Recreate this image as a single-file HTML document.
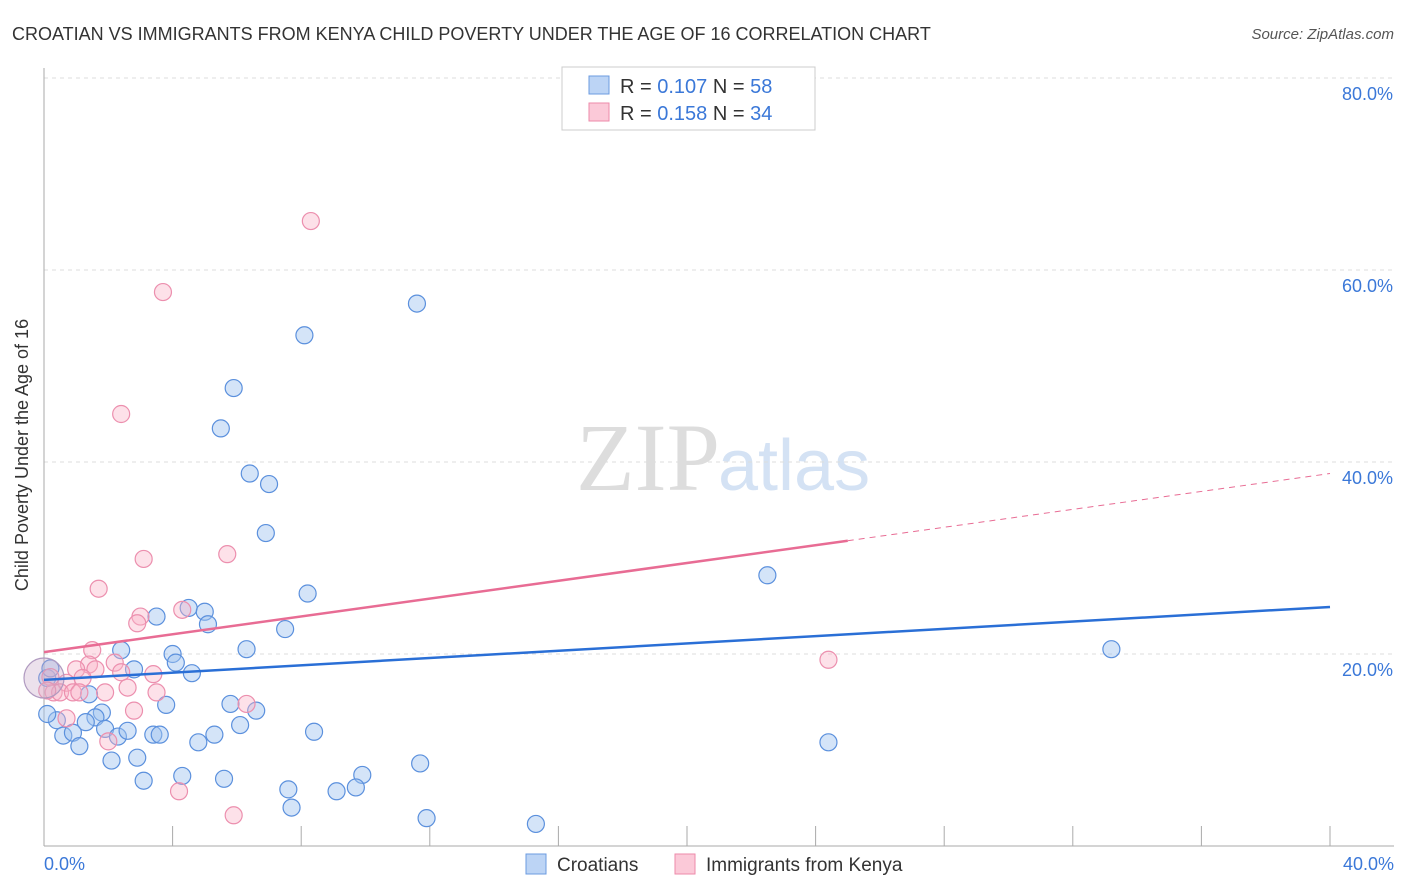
<!DOCTYPE html>
<html><head><meta charset="utf-8"><style>
body{margin:0;background:#fff;font-family:"Liberation Sans",sans-serif;}
svg{display:block}
</style></head><body>
<svg width="1406" height="892">
<text x="12" y="40" font-size="18" fill="#333">CROATIAN VS IMMIGRANTS FROM KENYA CHILD POVERTY UNDER THE AGE OF 16 CORRELATION CHART</text>
<text x="1394" y="39" font-size="15" fill="#555" text-anchor="end" font-style="italic">Source: ZipAtlas.com</text>
<text x="720" y="490" font-size="96" fill="#ddd" text-anchor="end" font-family="Liberation Serif,serif">ZIP</text>
<text x="718" y="490" font-size="72" fill="#d4e2f4">atlas</text>
<g id="grid"></g>
<line x1="44" y1="68" x2="44" y2="846" stroke="#aaa"/>
<line x1="44" y1="846" x2="1394" y2="846" stroke="#aaa"/>
<text x="28" y="455" font-size="18" fill="#333" text-anchor="middle" transform="rotate(-90 28 455)">Child Poverty Under the Age of 16</text>
<text x="44" y="870" font-size="18" fill="#3b78d8">0.0%</text>
<text x="1394" y="870" font-size="18" fill="#3b78d8" text-anchor="end">40.0%</text>
<g id="pts"></g>
<g id="trends"></g>
<g>
<rect x="562" y="67" width="253" height="63" fill="#fff" stroke="#ccc"/>
<rect x="589" y="76" width="20" height="18" fill="#bcd4f5" stroke="#6b9be0"/>
<rect x="589" y="103" width="20" height="18" fill="#fbc9d8" stroke="#ee8aaa"/>
<text x="620" y="93" font-size="20" fill="#333">R = <tspan fill="#3b78d8">0.107</tspan>   N = <tspan fill="#3b78d8">58</tspan></text>
<text x="620" y="120" font-size="20" fill="#333">R = <tspan fill="#3b78d8">0.158</tspan>   N = <tspan fill="#3b78d8">34</tspan></text>
</g>
<g>
<rect x="526" y="854" width="20" height="20" fill="#bcd4f5" stroke="#6b9be0"/>
<text x="557" y="871" font-size="19" fill="#333">Croatians</text>
<rect x="675" y="854" width="20" height="20" fill="#fbc9d8" stroke="#ee8aaa"/>
<text x="706" y="871" font-size="19" fill="#333">Immigrants from Kenya</text>
</g>
</svg>
<script>
const yTicks=[20,40,60,80];
const xTicks=[0,4,8,12,16,20,24,28,32,36,40];
const croatX=[11.6,8.1,5.9,5.5,6.4,7.0,6.9,22.5,8.2,3.5,4.5,5.0,5.1,7.5,2.4,6.3,4.0,4.1,4.6,2.8,1.4,33.2,5.8,6.6,3.8,1.8,1.6,0.4,1.3,0.6,0.9,1.9,2.3,2.6,3.4,3.6,5.3,6.1,4.8,8.4,1.1,24.4,2.1,2.9,11.7,9.9,4.3,5.6,3.1,7.6,9.1,9.7,7.7,11.9,15.3,0.1,0.1,0.2];
const croatY=[56.5,53.2,47.7,43.5,38.8,37.7,32.6,28.2,26.3,23.9,24.8,24.4,23.1,22.6,20.4,20.5,20.0,19.1,18.0,18.4,15.8,20.5,14.8,14.1,14.7,13.9,13.4,13.1,12.9,11.5,11.8,12.2,11.4,12.0,11.6,11.6,11.6,12.6,10.8,11.9,10.4,10.8,8.9,9.2,8.6,7.4,7.3,7.0,6.8,5.9,5.7,6.1,4.0,2.9,2.3,13.75,17.5,18.5];
const kenyaX=[8.3,3.7,2.4,5.7,3.1,1.7,4.3,3.0,2.9,1.5,2.2,1.4,1.0,1.6,2.4,3.4,1.2,0.7,0.3,0.5,0.9,1.1,1.9,2.6,3.5,6.3,2.8,0.7,2.0,24.4,4.2,5.9,0.2,0.1];
const kenyaY=[65.1,57.7,45.0,30.4,29.9,26.8,24.6,23.9,23.2,20.4,19.1,18.9,18.4,18.4,18.1,17.9,17.5,17.0,16.0,16.0,16.0,16.0,16.0,16.5,16.0,14.8,14.1,13.3,10.9,19.4,5.7,3.2,17.6,16.2];
const blueTrend=[17.3,24.9];
const pinkTrend=[20.2,31.8,38.8];
const NS='http://www.w3.org/2000/svg';
const X=v=>44+v/40*1286, Y=v=>846-v/20*192;
const grid=document.getElementById('grid');
yTicks.forEach(t=>{
 const l=document.createElementNS(NS,'line');
 
 
 l.setAttribute('x1',44);l.setAttribute('x2',1394);l.setAttribute('y1',Y(t));l.setAttribute('y2',Y(t));
 l.setAttribute('stroke','#ddd');l.setAttribute('stroke-dasharray','4,4');grid.appendChild(l);
 const tx=document.createElementNS(NS,'text');
 
 
 tx.setAttribute('x',1393);tx.setAttribute('y',Y(t)+22);tx.setAttribute('text-anchor','end');
 tx.setAttribute('font-size','18');tx.setAttribute('fill','#3b78d8');tx.textContent=t.toFixed(1)+'%';grid.appendChild(tx);
});
xTicks.forEach(t=>{
 const l=document.createElementNS(NS,'line');
 
 
 l.setAttribute('x1',X(t));l.setAttribute('x2',X(t));l.setAttribute('y1',826);l.setAttribute('y2',846);
 l.setAttribute('stroke','#aaa');grid.appendChild(l);
});
const pts=document.getElementById('pts');
function dot(x,y,r,fill,stroke){
 const c=document.createElementNS(NS,'circle');
 
 
 c.setAttribute('cx',X(x));c.setAttribute('cy',Y(y));c.setAttribute('r',r);
 c.setAttribute('fill',fill);c.setAttribute('stroke',stroke);c.setAttribute('stroke-width','1.2');pts.appendChild(c);
}
croatX.forEach((x,i)=>dot(x,croatY[i],8.5,'rgba(160,195,240,0.45)','#5b90dd'));
kenyaX.forEach((x,i)=>dot(x,kenyaY[i],8.5,'rgba(250,180,200,0.4)','#ec8fae'));
dot(0,17.5,20,'rgba(200,170,200,0.35)','#b09ac0');
const tr=document.getElementById('trends');
function line(x1,y1,x2,y2,c,dash,name){
 const l=document.createElementNS(NS,'line');
 
 
 l.setAttribute('x1',X(x1));l.setAttribute('y1',Y(y1));l.setAttribute('x2',X(x2));l.setAttribute('y2',Y(y2));
 l.setAttribute('stroke',c);l.setAttribute('stroke-width',dash?1:2.5);if(dash)l.setAttribute('stroke-dasharray','6,5');tr.appendChild(l);
}
line(0,blueTrend[0],40,blueTrend[1],'#2a6fd6',false,'croatians-trend-line');
line(0,pinkTrend[0],25,pinkTrend[1],'#e86c94',false,'kenya-trend-line');
line(25,pinkTrend[1],40,pinkTrend[2],'#e86c94',true,'kenya-trend-extension');
</script>
</body></html>
